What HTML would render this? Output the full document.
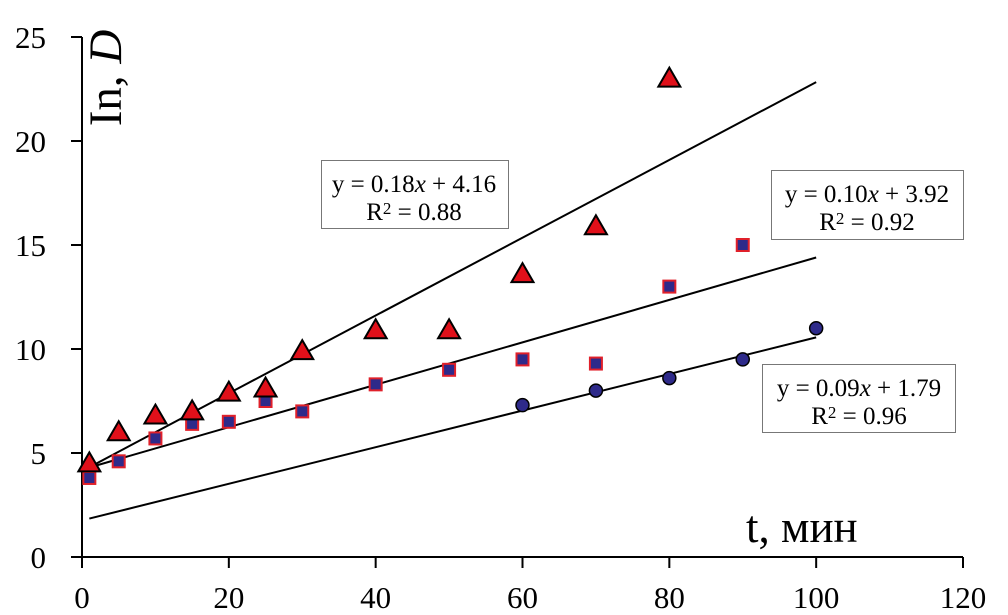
<!DOCTYPE html>
<html><head><meta charset="utf-8"><style>
body{margin:0;background:#fff}
svg{display:block;font-family:"Liberation Serif",serif}
</style></head><body>
<svg id="chart" width="1008" height="615" viewBox="0 0 1008 615" xmlns="http://www.w3.org/2000/svg">
<g id="axes"></g>
<g id="lines"></g>
<g id="marks"></g>
<text transform="translate(121,78) rotate(-90)" text-anchor="middle" font-size="47">In, <tspan font-style="italic">D</tspan></text>
<text x="746" y="542" font-size="45">t, мин</text>
<g>
<rect x="321.5" y="160.5" width="187" height="68" fill="#fff" stroke="#777"/>
<text x="414" y="192" font-size="25" text-anchor="middle">y = 0.18<tspan font-style="italic">x</tspan> + 4.16</text>
<text x="414" y="220" font-size="25" text-anchor="middle">R<tspan font-size="17" dy="-6">2</tspan><tspan dy="6"> = 0.88</tspan></text>
</g>
<g>
<rect x="771.5" y="170.5" width="192" height="69" fill="#fff" stroke="#777"/>
<text x="867" y="202" font-size="25" text-anchor="middle">y = 0.10<tspan font-style="italic">x</tspan> + 3.92</text>
<text x="867" y="230" font-size="25" text-anchor="middle">R<tspan font-size="17" dy="-6">2</tspan><tspan dy="6"> = 0.92</tspan></text>
</g>
<g>
<rect x="762.5" y="364.5" width="193" height="68" fill="#fff" stroke="#777"/>
<text x="859" y="396" font-size="25" text-anchor="middle">y = 0.09<tspan font-style="italic">x</tspan> + 1.79</text>
<text x="859" y="424" font-size="25" text-anchor="middle">R<tspan font-size="17" dy="-6">2</tspan><tspan dy="6"> = 0.96</tspan></text>
</g>
</svg>
<script>
const xTicks=[0,20,40,60,80,100,120];
const yTicks=[0,5,10,15,20,25];
const triX=[1,5,10,15,20,25,30,40,50,60,70,80];
const triY=[4.5,6,6.8,7,7.9,8.1,9.9,10.9,10.9,13.6,15.9,23];
const sqX=[1,5,10,15,20,25,30,40,50,60,70,80,90];
const sqY=[3.8,4.6,5.7,6.4,6.5,7.5,7,8.3,9,9.5,9.3,13,15];
const cirX=[60,70,80,90,100];
const cirY=[7.3,8,8.6,9.5,11];
const fitSlopes=[0.187,0.102,0.088];
const fitIntercepts=[4.13,4.2,1.76];
const fitRange=[1,100];
const X=v=>82+v*(963-82)/120;
const Y=v=>557-v*(557-37)/25;
const NS='http://www.w3.org/2000/svg';
function mk(p,t,a){const e=document.createElementNS(NS,t);for(const k in a)e.setAttribute(k,a[k]);p.appendChild(e);return e;}
const ax=document.getElementById('axes');
let l=mk(ax,'line',{x1:82,y1:37,x2:82,y2:557,stroke:'#000','stroke-width':2});


l=mk(ax,'line',{x1:82,y1:557,x2:963,y2:557,stroke:'#000','stroke-width':2});


yTicks.forEach(v=>{
 const t=mk(ax,'line',{x1:71,x2:82,y1:Y(v),y2:Y(v),stroke:'#000','stroke-width':2});
 
 
 const s=mk(ax,'text',{x:46,y:Y(v)+11,'font-size':31,'text-anchor':'end'});s.textContent=v;
 
 
});
xTicks.forEach(v=>{
 const t=mk(ax,'line',{x1:X(v),x2:X(v),y1:557,y2:568,stroke:'#000','stroke-width':2});
 
 
 const s=mk(ax,'text',{x:X(v),y:608,'font-size':31,'text-anchor':'middle'});s.textContent=v;
 
 
});
const lg=document.getElementById('lines');
['trend-triangles','trend-squares','trend-circles'].forEach((n,i)=>{
 const e=mk(lg,'line',{x1:X(fitRange[0]),y1:Y(fitSlopes[i]*fitRange[0]+fitIntercepts[i]),x2:X(fitRange[1]),y2:Y(fitSlopes[i]*fitRange[1]+fitIntercepts[i]),stroke:'#000','stroke-width':2});
 
 
});
const mg=document.getElementById('marks');
cirX.forEach((x,i)=>{
 const e=mk(mg,'circle',{cx:X(x),cy:Y(cirY[i]),r:6.5,fill:'#2e2a8a',stroke:'#000','stroke-width':1.5});
 
 
});
sqX.forEach((x,i)=>{
 const cx=X(x),cy=Y(sqY[i]);
 const e=mk(mg,'rect',{x:cx-6,y:cy-6,width:12,height:12,fill:'#2e2a8a',stroke:'#e0202a','stroke-width':2});
 
 
});
triX.forEach((x,i)=>{
 const cx=X(x),cy=Y(triY[i]);
 const e=mk(mg,'polygon',{points:`${cx},${cy-11} ${cx+11},${cy+8} ${cx-11},${cy+8}`,fill:'#e0101a',stroke:'#000','stroke-width':2});
 
 
});
</script>
</body></html>
